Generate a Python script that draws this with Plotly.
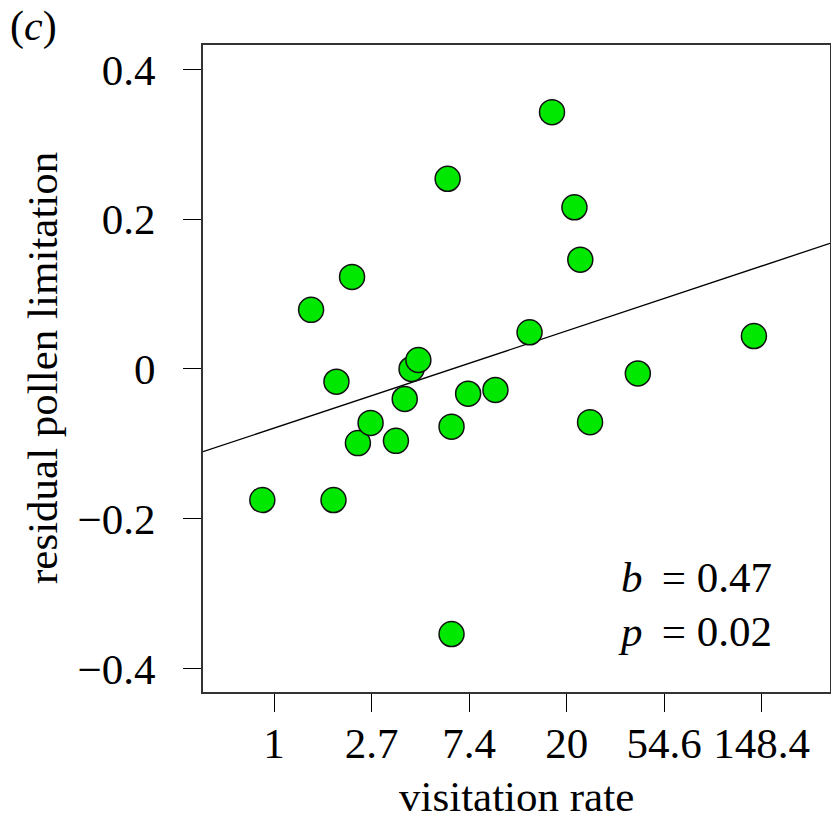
import plotly.graph_objects as go

# log(visitation rate) and residual pollen limitation
log_visitation = [-0.12, 0.38, 0.61, 0.64, 0.80, 0.86, 0.99, 1.25, 1.34, 1.41, 1.48,
                  1.78, 1.82, 1.82, 1.99, 2.27, 2.62, 2.85, 3.08, 3.14, 3.24, 3.73, 4.92]
residual_pl = [-0.175, 0.079, -0.175, -0.017, 0.123, -0.099, -0.072, -0.096, -0.040,
               0.000, 0.012, 0.254, -0.077, -0.354, -0.033, -0.028, 0.049, 0.343,
               0.216, 0.146, -0.071, -0.006, 0.044]

x_tickvals = [0, 1, 2, 3, 4, 5]
x_ticktext = ["1", "2.7", "7.4", "20", "54.6", "148.4"]
y_tickvals = [-0.4, -0.2, 0, 0.2, 0.4]
y_ticktext = ["\u22120.4", "\u22120.2", "0", "0.2", "0.4"]

fit_intercept = -0.079
fit_slope = 0.0433

x_range = [-0.728, 5.70]
y_range = [-0.4314, 0.4327]

FONT = "Liberation Serif, Times New Roman, serif"
fs = 43

fig = go.Figure()
fig.add_trace(go.Scatter(
    x=x_range, y=[fit_intercept + fit_slope * v for v in x_range],
    mode="lines", line=dict(color="black", width=1.3), hoverinfo="skip", showlegend=False))
fig.add_trace(go.Scatter(
    x=log_visitation, y=residual_pl, mode="markers",
    marker=dict(size=25, color="#00e800", line=dict(color="#111111", width=1.5)),
    showlegend=False))

fig.update_layout(
    width=831, height=822,
    margin=dict(l=203, r=1, t=45, b=130),
    paper_bgcolor="white", plot_bgcolor="white",
    font=dict(family=FONT, size=fs, color="black"),
    xaxis=dict(range=x_range, tickvals=x_tickvals, ticktext=x_ticktext, automargin=False,
               ticks="outside", ticklen=18, tickwidth=1.3, tickcolor="black",
               ticklabelstandoff=-6,
               showline=True, mirror=True, linecolor="#333333", linewidth=1.8,
               showgrid=False, zeroline=False, tickfont=dict(family=FONT, size=fs)),
    yaxis=dict(range=y_range, tickvals=y_tickvals, ticktext=y_ticktext, automargin=False,
               ticks="outside", ticklen=18, tickwidth=1.3, tickcolor="black",
               ticklabelstandoff=19,
               showline=True, mirror=True, linecolor="#333333", linewidth=1.8,
               showgrid=False, zeroline=False, tickfont=dict(family=FONT, size=fs)),
)

plot_h = 822 - 45 - 130
plot_w = 831 - 203 - 1
def py(pix):
    return (822 - 130 - pix) / plot_h
def px(pix):
    return (pix - 203) / plot_w

fig.add_annotation(text="visitation rate", x=px(516), y=py(796), xref="paper", yref="paper",
                   showarrow=False, font=dict(family=FONT, size=fs), xanchor="center", yanchor="middle")
fig.add_annotation(text="residual pollen limitation", x=px(42), y=py(368), xref="paper", yref="paper",
                   showarrow=False, textangle=-90, font=dict(family=FONT, size=fs),
                   xanchor="center", yanchor="middle")
fig.add_annotation(text="(<i>c</i>)", x=px(8), y=py(27), xref="paper", yref="paper",
                   showarrow=False, font=dict(family=FONT, size=42), xanchor="left", yanchor="middle")
fig.add_annotation(text="<i>b</i>\u2009 = 0.47", x=px(774), y=py(577), xref="paper", yref="paper",
                   showarrow=False, font=dict(family=FONT, size=fs), xanchor="right", yanchor="middle")
fig.add_annotation(text="<i>p</i>\u2009 = 0.02", x=px(774), y=py(631), xref="paper", yref="paper",
                   showarrow=False, font=dict(family=FONT, size=fs), xanchor="right", yanchor="middle")

fig.write_html("out.html", config={"displayModeBar": False},
               post_script="document.body.style.margin='0px';document.body.style.overflow='hidden';")
